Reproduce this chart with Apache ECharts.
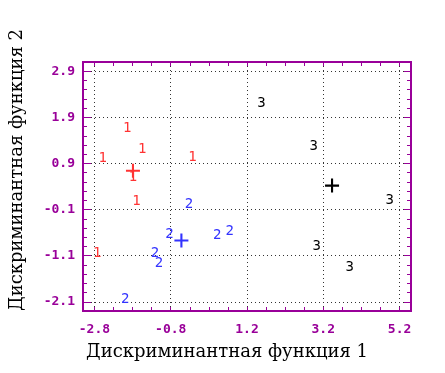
<!DOCTYPE html>
<html>
<head>
<meta charset="utf-8">
<script src="https://cdn.jsdelivr.net/npm/echarts@6/dist/echarts.min.js"></script>
<style>html,body{margin:0;padding:0;background:#fff}#c{width:445px;height:373px}</style>
</head>
<body>
<div id="c"></div>
<script>
// Group 1 (red) points
const group1 = [[-1.94,1.67],[-1.55,1.20],[-2.58,1.01],[-0.23,1.03],[-1.79,0.59],[-1.70,0.07],[-2.73,-1.04]];
// Group 2 (blue) points
const group2 = [[-0.32,0.01],[-0.83,-0.63],[0.42,-0.65],[0.75,-0.58],[-1.21,-1.06],[-1.11,-1.26],[-1.99,-2.05]];
// Group 3 (black) points
const group3 = [[1.58,2.20],[2.95,1.26],[4.94,0.09],[3.03,-0.90],[3.89,-1.35]];
// Group centroids
const centroids = [[-1.79,0.74],[-0.52,-0.77],[3.43,0.42]];
const groupLabels = ['1','2','3'];
const groupColors = ['#ff3333','#3333ff','#000000'];

const xTicks = [-2.8,-0.8,1.2,3.2,5.2];
const yTicks = [-2.1,-1.1,-0.1,0.9,1.9,2.9];
const xMinor = [-2.8,-2.3,-1.8,-1.3,-0.8,-0.3,0.2,0.7,1.2,1.7,2.2,2.7,3.2,3.7,4.2,4.7,5.2];
const yMinor = [-2.1,-1.9,-1.7,-1.5,-1.3,-1.1,-0.9,-0.7,-0.5,-0.3,-0.1,0.1,0.3,0.5,0.7,0.9,1.1,1.3,1.5,1.7,1.9,2.1,2.3,2.5,2.7,2.9];
const xTitle = 'Дискриминантная функция 1';
const yTitle = 'Дискриминантная функция 2';

const X_MIN = -3.1, X_MAX = 5.5, Y_MIN = -2.3, Y_MAX = 3.1;
const PURPLE = '#990099';

const chart = echarts.init(document.getElementById('c'));

function xAx(pos, values, len, main) {
  return {
    type: 'value', position: pos, min: X_MIN, max: X_MAX,
    axisLine: {show: true, onZero: false, lineStyle: {color: PURPLE, width: 2}},
    axisTick: {show: true, inside: true, length: len, customValues: values, lineStyle: {color: PURPLE, width: 1}},
    axisLabel: main ? {show: true, customValues: xTicks, color: PURPLE, fontFamily: 'DejaVu Sans Mono', fontWeight: 'bold', fontSize: 13, margin: 12,
      formatter: v => v.toFixed(1)} : {show: false},
    splitLine: main ? {show: true, lineStyle: {color: '#333', type: [1, 3], width: 1}} : {show: false}
  };
}
function yAx(pos, values, len, main) {
  return {
    type: 'value', position: pos, min: Y_MIN, max: Y_MAX,
    axisLine: {show: true, onZero: false, lineStyle: {color: PURPLE, width: 2}},
    axisTick: {show: true, inside: true, length: len, customValues: values, lineStyle: {color: PURPLE, width: 1}},
    axisLabel: main ? {show: true, customValues: yTicks, color: PURPLE, fontFamily: 'DejaVu Sans Mono', fontWeight: 'bold', fontSize: 13, margin: 8,
      formatter: v => v.toFixed(1)} : {show: false},
    splitLine: main ? {show: true, lineStyle: {color: '#333', type: [1, 3], width: 1}} : {show: false}
  };
}

const groups = [group1, group2, group3];
const series = groups.map((g, i) => ({
  type: 'scatter', xAxisIndex: 0, yAxisIndex: 0,
  data: g, symbol: 'circle', symbolSize: 0,
  itemStyle: {color: groupColors[i], opacity: 1},
  label: {show: true, position: 'inside', formatter: groupLabels[i], color: groupColors[i], opacity: 1,
    fontFamily: 'DejaVu Sans Mono', fontSize: 14},
  silent: true
}));
series.push({
  type: 'scatter', xAxisIndex: 0, yAxisIndex: 0,
  data: centroids.map((c, i) => ({value: c, itemStyle: {color: groupColors[i], opacity: 1}})),
  symbol: 'path://M0,8.5H20V11.5H0Z M8.5,0H11.5V20H8.5Z', symbolSize: 14,
  itemStyle: {opacity: 1},
  silent: true
});

chart.setOption({
  animation: false,
  grid: {left: 83, right: 34, top: 62, bottom: 62, containLabel: false},
  xAxis: [xAx('bottom', xTicks, 4, true), xAx('bottom', xMinor, 4, false), xAx('top', xMinor, 4, false)],
  yAxis: [yAx('left', yTicks, 8, true), yAx('left', yMinor, 4, false), yAx('right', yMinor, 4, false), yAx('right', yTicks, 7, false)],
  series: series,
  graphic: [
    {type: 'text', x: 227, y: 352, style: {text: xTitle, font: '18px "DejaVu Serif"', fill: '#000', align: 'center', verticalAlign: 'middle'}},
    {type: 'text', x: 17, y: 170, rotation: Math.PI / 2, style: {text: yTitle, font: '18px "DejaVu Serif"', fill: '#000', align: 'center', verticalAlign: 'middle'}}
  ]
});
</script>
</body>
</html>
